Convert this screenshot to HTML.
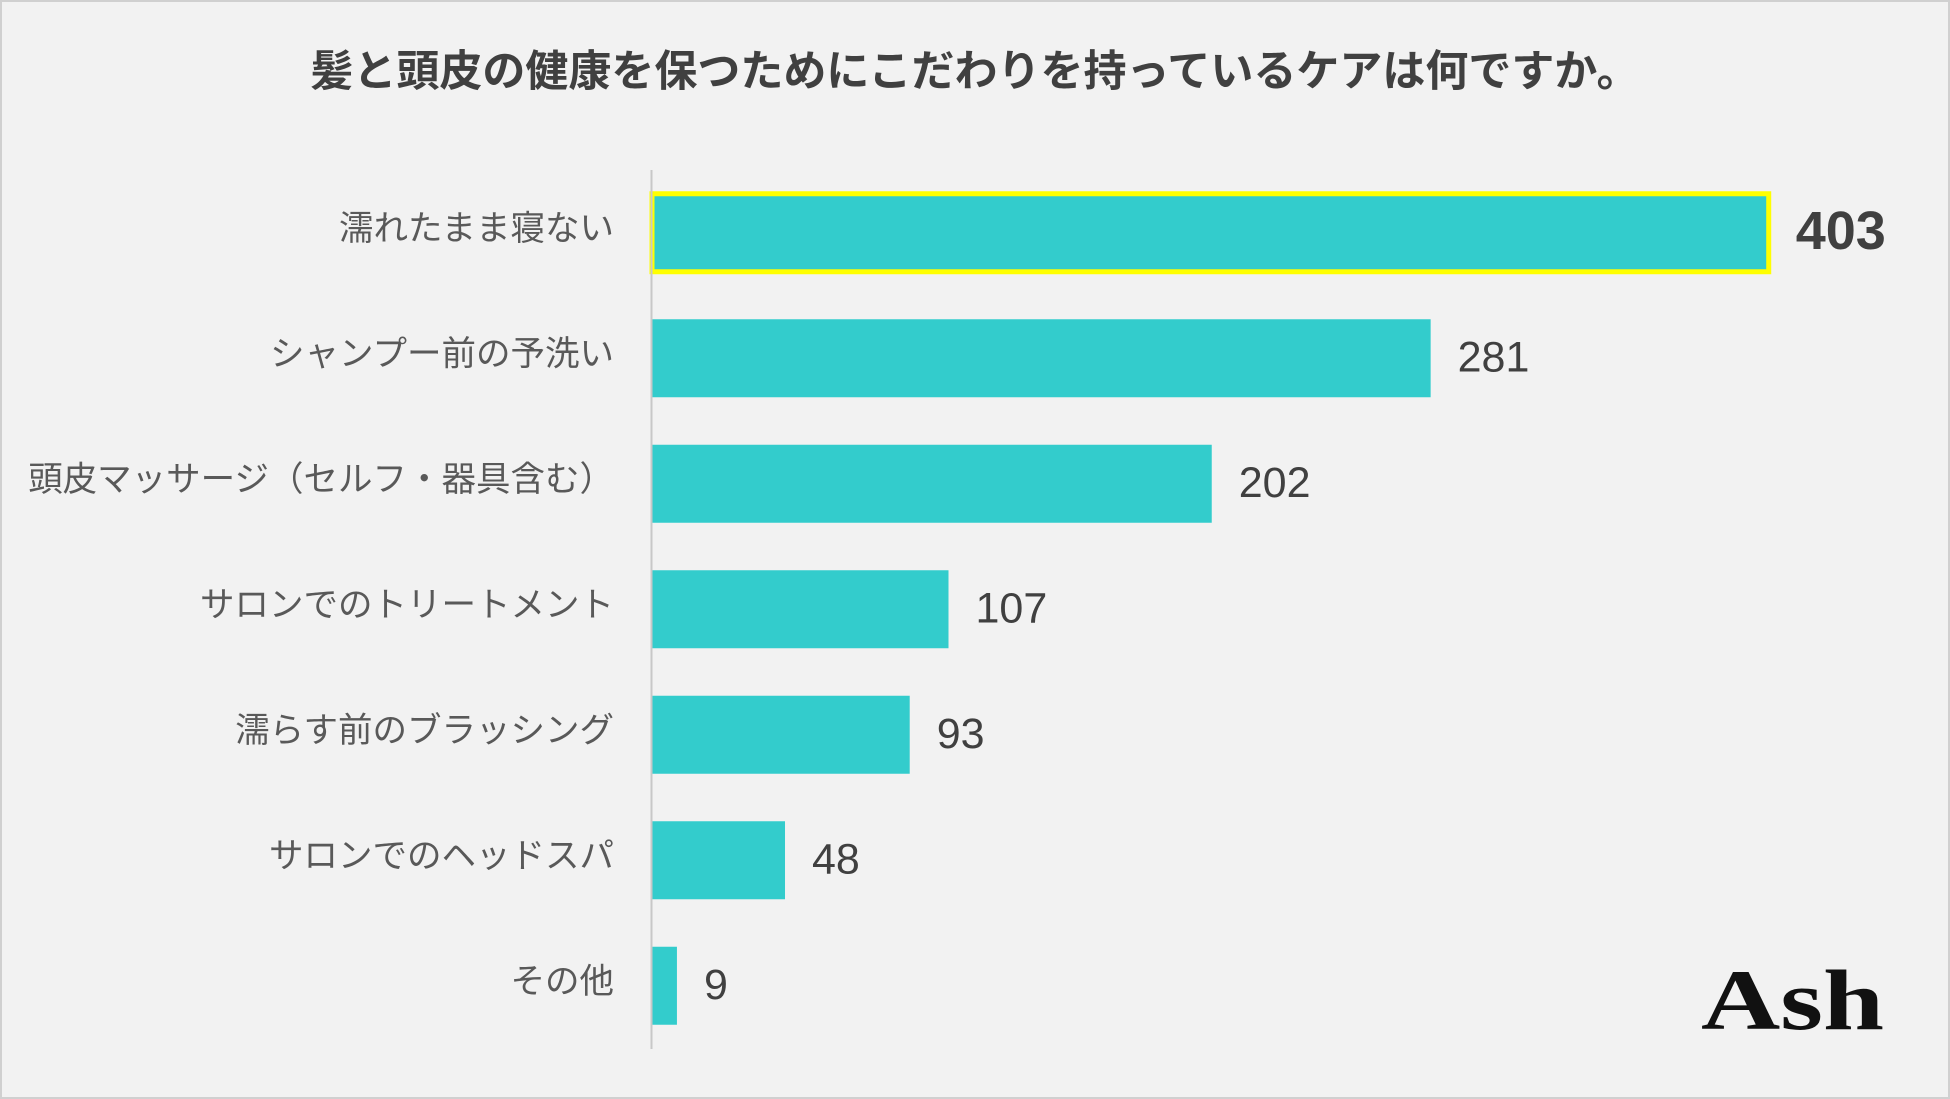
<!DOCTYPE html>
<html><head><meta charset="utf-8"><style>
html,body{margin:0;padding:0;background:#f2f2f2;}
svg{display:block;}
</style></head><body>
<svg id="chart" width="1950" height="1099" viewBox="0 0 1950 1099" xmlns="http://www.w3.org/2000/svg">
<rect x="1" y="1" width="1948" height="1097" fill="#f2f2f2" stroke="#d0d0d0" stroke-width="2"/>
<text x="975" y="86" text-anchor="middle" font-family="'Liberation Sans','Noto Sans CJK JP',sans-serif" font-size="43" font-weight="bold" fill="#404040">髪と頭皮の健康を保つためにこだわりを持っているケアは何ですか。</text>
<g id="bars"></g>
<line x1="651.5" y1="170" x2="651.5" y2="1049" stroke="#c8c8c8" stroke-width="2"/>
<text x="1701" y="1029" font-family="'Liberation Serif',serif" font-size="86" font-weight="bold" fill="#111" textLength="183" lengthAdjust="spacingAndGlyphs">Ash</text>
</svg>
<script>
const categories = ["濡れたまま寝ない","シャンプー前の予洗い","頭皮マッサージ（セルフ・器具含む）","サロンでのトリートメント","濡らす前のブラッシング","サロンでのヘッドスパ","その他"];
const values = [403,281,202,107,93,48,9];
const highlightIndex = 0;

const x0 = 652, unit = 2.771;
const yTop = 170, pitch = 125.5, barH = 78;
const xScale = v => x0 + v * unit;
const yCenter = i => yTop + pitch * (i + 0.5);
const g = document.getElementById('bars');
const NS = 'http://www.w3.org/2000/svg';
const font = "'Liberation Sans','Noto Sans CJK JP',sans-serif";
values.forEach((v, i) => {
  const cy = yCenter(i);
  const r = document.createElementNS(NS, 'rect');
  r.setAttribute('x', x0);
  r.setAttribute('y', cy - barH / 2);
  r.setAttribute('width', xScale(v) - x0);
  r.setAttribute('height', barH);
  r.setAttribute('fill', '#33cccc');
  if (i === highlightIndex) { r.setAttribute('stroke', '#ffff00'); r.setAttribute('stroke-width', '5'); }
  
  
  g.appendChild(r);
  const lab = document.createElementNS(NS, 'text');
  lab.setAttribute('x', 614);
  lab.setAttribute('y', cy - 2);
  lab.setAttribute('text-anchor', 'end');
  lab.setAttribute('dominant-baseline', 'middle');
  lab.setAttribute('font-family', font);
  lab.setAttribute('font-size', '34.5');
  lab.setAttribute('fill', '#595959');
  lab.textContent = categories[i];
  
  
  g.appendChild(lab);
  const val = document.createElementNS(NS, 'text');
  val.setAttribute('x', xScale(v) + (i === highlightIndex ? 27 : 27));
  val.setAttribute('y', cy + 2);
  val.setAttribute('dominant-baseline', 'middle');
  val.setAttribute('font-family', font);
  val.setAttribute('font-size', i === highlightIndex ? '54' : '43');
  if (i === highlightIndex) val.setAttribute('font-weight', 'bold');
  val.setAttribute('fill', '#404040');
  val.textContent = v;
  
  
  g.appendChild(val);
});
</script>
</body></html>
